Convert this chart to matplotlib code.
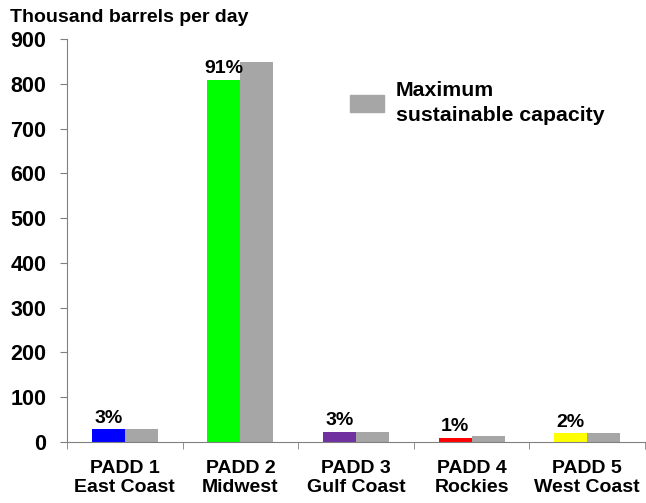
import matplotlib.pyplot as plt
import numpy as np
from matplotlib.patches import Rectangle

plt.rcParams['font.family'] = ['Liberation Sans', 'DejaVu Sans']
plt.rcParams['font.weight'] = 'bold'

# Data (thousand barrels per day)
regions = ['PADD 1\nEast Coast', 'PADD 2\nMidwest', 'PADD 3\nGulf Coast',
           'PADD 4\nRockies', 'PADD 5\nWest Coast']
throughput = [28, 808, 22, 9, 19]
capacity = [28, 848, 22, 13, 19]
shares = ['3%', '91%', '3%', '1%', '2%']
bar_colors = ['#0000FF', '#00FF00', '#7030A0', '#FF0000', '#FFFF00']
cap_color = '#A6A6A6'

fig = plt.figure(figsize=(6.46, 5.03), dpi=100)
ax = fig.add_axes([67 / 646, 1 - 442 / 503, 578 / 646, 403 / 503])

x = np.arange(len(regions))
w = 0.286
ax.bar(x - w / 2, throughput, width=w, color=bar_colors)
ax.bar(x + w / 2, capacity, width=w, color=cap_color)

# share labels above the coloured bars
for xi, val, s in zip(x, throughput, shares):
    ax.annotate(s, (xi - w / 2, val), xytext=(0, 2), textcoords='offset points',
                ha='center', va='bottom', fontsize=14, fontweight='bold')

ax.set_xlim(-0.5, len(regions) - 0.5)
ax.set_ylim(0, 900)
ax.set_yticks(range(0, 901, 100))
ax.set_xticks(x)
ax.set_xticklabels(regions, fontsize=14, fontweight='bold', linespacing=1.15)
ax.tick_params(axis='x', length=0, pad=13)
ax.set_xticks(np.arange(-0.5, len(regions), 1), minor=True)
ax.tick_params(axis='x', which='minor', length=5, color='#808080', direction='out')
ax.tick_params(axis='y', length=5, color='#808080', direction='out', labelsize=15.5, pad=10)
for lab in ax.get_yticklabels():
    lab.set_fontweight('bold')

for side in ['top', 'right']:
    ax.spines[side].set_visible(False)
for side in ['left', 'bottom']:
    ax.spines[side].set_color('#808080')

fig.text(10 / 646, 1 - 17 / 503, 'Thousand barrels per day', fontsize=14, fontweight='bold',
         ha='left', va='center')

# legend drawn by hand to match the layout
fig.patches.append(Rectangle((350 / 646, 1 - 112 / 503), 34 / 646, 17 / 503,
                             transform=fig.transFigure, color=cap_color))
fig.text(396 / 646, 1 - 103 / 503, 'Maximum\nsustainable capacity', fontsize=15.3,
         fontweight='bold', ha='left', va='center', linespacing=1.4)

fig.savefig('out.png', dpi=100)
